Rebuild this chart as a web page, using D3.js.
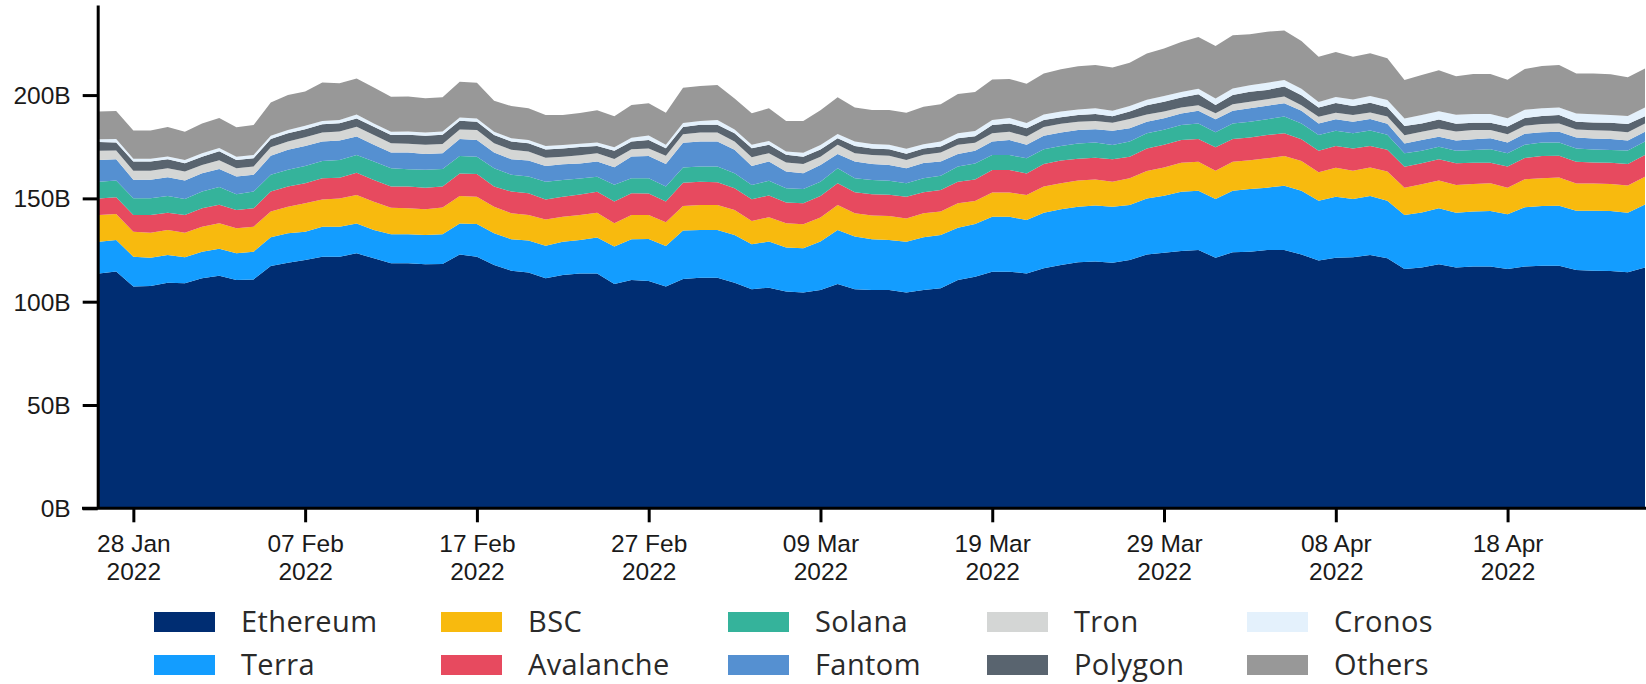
<!DOCTYPE html>
<html>
<head>
<meta charset="utf-8">
<script src="https://cdn.jsdelivr.net/npm/d3@7"></script>
<style>
    body { margin: 0; background: #fff; }
    svg { display: block; font-family: "Open Sans", sans-serif; }
    .axis path, .axis line { stroke: #000; stroke-width: 3px; }
    .axis text { font-size: 24.5px; fill: #1a1a1a; }
    .legend text { font-size: 29px; letter-spacing: 0.4px; fill: #2a2a2a; }
</style>
</head>
<body>
<svg width="1646" height="684"></svg>
<script>
const width = 1646
const height = 684

// Daily values (billions), 26 Jan 2022 -> 26 Apr 2022
const ethereum = [113.7, 114.6, 107.3, 107.6, 109.2, 108.9, 111.3, 112.5, 110.5, 110.8, 117.3, 118.9, 120.2, 121.8, 121.8, 123.4, 121.0, 118.6, 118.6, 118.1, 118.3, 122.9, 121.8, 117.8, 115.0, 114.1, 111.3, 112.9, 113.7, 113.7, 108.6,
    110.5, 110.0, 107.3, 111.0, 111.6, 111.6, 109.2, 106.0, 106.8, 104.9, 104.4, 105.7, 108.6, 106.0, 105.7, 105.7, 104.5, 105.7, 106.5, 110.5, 112.1, 114.5, 114.5, 113.7, 116.2, 117.8, 119.1, 119.4, 118.9, 120.2,
    122.9, 123.7, 124.5, 125.0, 121.3, 123.9, 124.2, 125.0, 125.0, 122.9, 119.9, 121.3, 121.5, 122.6, 121.0, 115.8, 116.6, 118.1, 116.6, 117.0, 117.0, 115.8, 117.0, 117.4, 117.4, 115.3, 115.0, 114.9, 114.2, 116.6]
const terra = [15.3, 15.3, 14.5, 13.7, 13.4, 12.6, 12.9, 13.1, 12.9, 13.4, 13.9, 14.2, 13.7, 14.5, 14.5, 14.5, 13.7, 14.0, 14.0, 14.2, 14.4, 15.0, 15.8, 15.3, 15.2, 15.5, 15.8, 16.1, 16.1, 17.4, 18.1,
    19.7, 20.3, 19.7, 23.4, 23.1, 23.1, 23.1, 21.8, 22.3, 21.3, 21.5, 23.4, 26.1, 25.5, 24.5, 24.2, 24.5, 25.5, 25.8, 25.3, 25.5, 26.6, 26.6, 25.8, 26.9, 26.9, 26.9, 27.1, 27.1, 26.6,
    27.1, 27.6, 28.7, 28.7, 28.4, 29.8, 30.3, 30.2, 31.1, 30.8, 29.0, 29.5, 28.2, 28.6, 27.8, 26.1, 26.6, 27.1, 26.5, 26.6, 26.9, 26.5, 28.7, 28.9, 29.0, 28.7, 29.0, 29.0, 28.9, 30.5]
const bsc = [12.9, 12.6, 12.1, 12.1, 12.1, 11.9, 12.1, 12.4, 12.1, 12.1, 12.4, 12.9, 13.7, 13.2, 13.7, 13.7, 13.7, 12.9, 12.6, 12.4, 12.9, 13.2, 13.2, 12.9, 12.6, 12.4, 12.7, 12.1, 12.1, 11.9, 11.3,
    11.8, 11.6, 11.5, 11.9, 12.1, 12.1, 12.1, 11.3, 11.8, 11.8, 11.6, 11.6, 12.1, 11.3, 11.5, 11.6, 11.3, 11.6, 11.3, 11.8, 11.1, 11.8, 11.8, 12.1, 12.6, 12.6, 12.6, 12.7, 12.1, 12.9,
    13.2, 13.6, 14.0, 14.0, 13.7, 14.0, 14.0, 14.2, 14.4, 14.4, 13.7, 14.0, 13.7, 13.7, 14.2, 13.2, 13.6, 13.4, 13.4, 13.4, 13.4, 12.9, 13.6, 13.4, 13.7, 13.2, 13.2, 13.1, 13.1, 13.4]
const avalanche = [8.1, 8.1, 8.1, 8.6, 8.4, 8.6, 8.9, 8.9, 8.9, 8.9, 9.7, 9.7, 9.7, 10.2, 10.0, 10.8, 10.5, 10.2, 10.5, 10.5, 10.2, 11.0, 11.0, 9.7, 10.5, 10.5, 9.7, 9.7, 10.0, 10.2, 10.5,
    10.5, 10.5, 10.0, 11.3, 11.3, 11.0, 10.5, 10.5, 10.5, 10.0, 10.2, 10.5, 10.5, 10.2, 10.3, 10.2, 10.5, 10.2, 10.5, 10.5, 10.5, 10.8, 10.8, 10.5, 11.0, 11.0, 10.6, 10.5, 10.8, 10.5,
    11.0, 11.0, 11.0, 11.0, 11.3, 11.0, 11.0, 11.3, 11.0, 10.5, 10.5, 10.5, 10.8, 10.5, 10.5, 10.2, 10.2, 10.3, 10.5, 10.3, 10.0, 10.2, 10.2, 10.8, 10.5, 10.5, 10.2, 10.3, 10.5, 10.5]
const solana = [8.1, 8.1, 8.1, 8.1, 8.1, 7.7, 8.1, 8.6, 7.6, 8.1, 8.1, 8.1, 8.4, 8.4, 8.6, 8.6, 8.9, 8.9, 8.4, 8.6, 8.4, 8.4, 8.4, 8.9, 8.1, 8.1, 8.6, 8.1, 7.7, 7.3, 8.1,
    7.3, 7.3, 7.3, 7.4, 7.3, 7.6, 7.3, 6.9, 7.1, 6.9, 6.8, 6.9, 7.3, 6.8, 6.9, 6.8, 6.5, 6.8, 6.9, 7.3, 7.7, 7.3, 7.3, 7.3, 7.1, 7.1, 7.4, 7.3, 6.9, 7.3,
    7.3, 7.3, 7.3, 7.6, 7.3, 7.6, 7.6, 7.6, 8.1, 7.7, 7.6, 7.4, 7.3, 7.4, 7.3, 6.5, 6.0, 6.1, 6.0, 6.1, 6.5, 6.5, 6.5, 6.5, 6.5, 6.5, 6.3, 6.1, 6.5, 6.5]
const fantom = [10.5, 10.3, 8.9, 8.9, 9.0, 8.9, 8.9, 8.7, 8.6, 8.1, 9.2, 9.7, 9.7, 9.4, 9.4, 8.9, 8.1, 7.6, 8.1, 7.7, 7.7, 8.2, 8.1, 7.6, 7.6, 7.7, 7.6, 7.6, 7.3, 7.3, 8.5,
    10.5, 10.8, 10.8, 11.9, 12.1, 12.1, 11.3, 9.2, 9.4, 8.1, 7.7, 8.1, 6.9, 8.1, 7.7, 7.7, 7.3, 7.3, 6.8, 6.1, 6.1, 6.5, 7.3, 6.5, 6.5, 6.5, 6.5, 6.5, 6.9, 6.5,
    5.6, 5.6, 5.6, 6.1, 6.3, 6.1, 6.5, 6.5, 6.5, 6.1, 5.6, 5.6, 5.6, 5.6, 5.3, 4.8, 5.3, 4.8, 5.0, 5.2, 5.3, 5.2, 5.3, 5.0, 5.2, 5.3, 5.3, 5.3, 4.8, 4.8]
const tron = [4.5, 4.2, 4.4, 4.4, 4.4, 4.4, 4.0, 4.2, 4.0, 4.0, 4.2, 4.0, 4.2, 4.4, 4.4, 4.8, 4.8, 4.5, 4.2, 4.4, 4.4, 4.7, 4.8, 4.5, 4.5, 4.4, 4.0, 3.7, 4.0, 4.0, 4.0,
    3.5, 3.7, 4.0, 4.2, 4.4, 4.4, 4.0, 4.2, 4.0, 4.4, 4.5, 4.0, 4.4, 4.0, 4.4, 4.4, 4.0, 4.0, 4.4, 4.4, 3.9, 4.0, 4.0, 4.0, 4.2, 4.2, 4.0, 4.0, 3.9, 4.4,
    3.5, 3.2, 2.9, 2.7, 2.9, 3.2, 3.2, 3.2, 3.2, 2.7, 3.2, 3.2, 3.2, 3.2, 3.5, 4.0, 4.0, 4.0, 4.4, 4.5, 4.0, 4.0, 3.9, 4.0, 4.0, 3.9, 4.0, 4.0, 4.0, 4.0]
const polygon = [4.2, 3.9, 4.5, 4.5, 4.4, 4.0, 4.0, 4.4, 4.0, 4.0, 3.9, 4.0, 3.9, 4.0, 4.0, 4.0, 4.0, 4.0, 4.4, 4.4, 4.5, 4.2, 4.0, 4.0, 4.0, 4.0, 4.0, 4.0, 4.0, 3.5, 4.0,
    3.7, 4.0, 3.7, 3.5, 3.7, 3.7, 4.0, 4.4, 4.0, 3.7, 3.5, 3.5, 3.2, 3.5, 3.2, 3.2, 3.0, 3.0, 2.9, 3.2, 3.2, 4.0, 4.0, 4.0, 3.5, 3.2, 3.2, 3.4, 3.2, 3.7,
    4.5, 4.8, 4.8, 5.3, 4.0, 4.4, 4.8, 4.5, 4.8, 4.8, 4.5, 4.7, 4.4, 4.7, 4.5, 4.4, 4.0, 4.4, 3.7, 3.5, 3.5, 3.7, 3.7, 3.9, 4.0, 3.7, 3.7, 3.9, 4.0, 3.5]
const cronos = [1.3, 1.6, 1.3, 1.3, 1.3, 1.6, 1.6, 1.6, 1.6, 1.6, 1.6, 1.6, 1.6, 1.6, 1.6, 1.9, 1.6, 1.6, 1.6, 1.6, 1.6, 1.6, 1.6, 1.6, 1.6, 1.6, 1.6, 1.6, 1.6, 1.8, 1.6,
    1.9, 2.2, 1.6, 1.9, 1.9, 2.4, 1.9, 1.6, 1.9, 1.6, 1.9, 2.1, 2.1, 2.1, 2.1, 2.1, 2.4, 2.1, 2.4, 2.4, 2.5, 2.5, 2.6, 2.6, 2.6, 2.7, 2.7, 2.7, 2.6, 2.6,
    2.7, 2.7, 2.7, 2.7, 3.2, 3.2, 3.2, 3.5, 3.2, 3.2, 2.7, 2.9, 3.2, 3.2, 3.5, 3.7, 4.0, 4.0, 4.4, 4.2, 4.2, 4.0, 4.0, 3.7, 3.7, 4.0, 4.0, 3.7, 3.9, 4.2]
const others = [13.4, 13.6, 13.7, 13.7, 14.2, 13.7, 14.5, 14.5, 14.2, 14.5, 16.1, 16.9, 16.6, 18.6, 17.7, 17.4, 17.4, 16.9, 16.9, 16.6, 16.6, 17.3, 17.3, 15.0, 15.6, 15.3, 15.0, 14.5, 14.8, 15.6, 15.0,
    15.8, 15.6, 15.6, 17.1, 16.9, 16.9, 15.0, 15.3, 15.8, 14.8, 15.3, 16.9, 17.7, 16.5, 16.5, 16.9, 17.4, 18.2, 18.1, 19.0, 18.9, 19.5, 18.9, 19.0, 19.8, 20.5, 21.0, 21.0, 21.0, 21.0,
    22.3, 23.1, 24.2, 25.0, 25.3, 25.8, 24.7, 24.7, 23.9, 23.1, 21.8, 21.8, 20.7, 20.7, 20.2, 18.6, 19.4, 19.8, 18.6, 19.4, 19.4, 18.6, 19.7, 20.5, 20.5, 19.4, 19.7, 19.8, 18.7, 18.9]

const seriesNames = ["Ethereum", "Terra", "BSC", "Avalanche", "Solana", "Fantom", "Tron", "Polygon", "Cronos", "Others"]
const seriesValues = [ethereum, terra, bsc, avalanche, solana, fantom, tron, polygon, cronos, others]
const colors = ["#002d72", "#139dff", "#f8ba0e", "#e74a5f", "#35b39b", "#5590d1", "#d4d6d5", "#59646f", "#e4f1fc", "#989898"]

const yTicks = [0, 50, 100, 150, 200]
const xTickLabels = ["2022-01-28", "2022-02-07", "2022-02-17", "2022-02-27", "2022-03-09", "2022-03-19", "2022-03-29", "2022-04-08", "2022-04-18"]

// dates, one per value
const startDate = new Date(Date.UTC(2022, 0, 26))
const dates = ethereum.map((v, i) => d3.utcDay.offset(startDate, i))

// build rows for the stack
const rows = dates.map((d, i) => {
    const row = {date: d}
    seriesNames.forEach((name, k) => row[name] = seriesValues[k][i])
    return row
})

const svg = d3.select('svg')

// Scales
const xScale = d3.scaleUtc()
    .domain(d3.extent(dates))
    .range([99, 1645])
const yScale = d3.scaleLinear()
    .domain([0, 243.6])
    .range([508.3, 5])
const color = d3.scaleOrdinal().domain(seriesNames).range(colors)

// Stack + area
const stack = d3.stack().keys(seriesNames)
const layers = stack(rows)
const area = d3.area()
    .x(d => xScale(d.data.date))
    .y0(d => yScale(d[0]))
    .y1(d => yScale(d[1]))

svg.append('g')
    .selectAll('path')
    .data(layers)
    .join('path')
    .attr('d', area)
    .attr('fill', d => color(d.key))

// Draw y axis
svg.append('g')
    .attr('class', 'axis')
    .attr('transform', 'translate(97.7,0)')
    .call(d3.axisLeft(yScale)
        .tickValues(yTicks)
        .tickFormat(d => d + 'B')
        .tickSize(15)
        .tickSizeOuter(0)
        .tickPadding(12))
    .selectAll('text')
    .attr('dy', '0.35em')

// Draw x axis
const fmtDay = d3.utcFormat('%d %b')
const fmtYear = d3.utcFormat('%Y')
const xAxisG = svg.append('g')
    .attr('class', 'axis')
    .attr('transform', `translate(0,${yScale(0)})`)
    .call(d3.axisBottom(xScale)
        .tickValues(xTickLabels.map(s => new Date(s + 'T00:00:00Z')))
        .tickSize(14)
        .tickSizeOuter(0)
        .tickPadding(12.5))
xAxisG.select('.domain').attr('d', `M82,0H${width}`)
xAxisG.selectAll('.tick text').each(function (d) {
    const t = d3.select(this)
    t.text(null)
    t.append('tspan').attr('x', 0).attr('dy', '0.71em').text(fmtDay(d))
    t.append('tspan').attr('x', 0).attr('dy', '1.12em').text(fmtYear(d))
})

// Draw legend
const legendCols = [154, 441, 728, 987, 1247]
const legend = svg.append('g')
    .attr('class', 'legend')
    .selectAll('g')
    .data(seriesNames)
    .join('g')
    .attr('transform', (d, i) => `translate(${legendCols[Math.floor(i / 2)]},${i % 2 === 0 ? 612 : 655})`)

legend.append('rect')
    .attr('width', 61)
    .attr('height', 20)
    .attr('fill', d => color(d))
legend.append('text')
    .attr('x', 87)
    .attr('y', 10)
    .attr('dy', '0.35em')
    .text(d => d)
</script>
</body>
</html>
